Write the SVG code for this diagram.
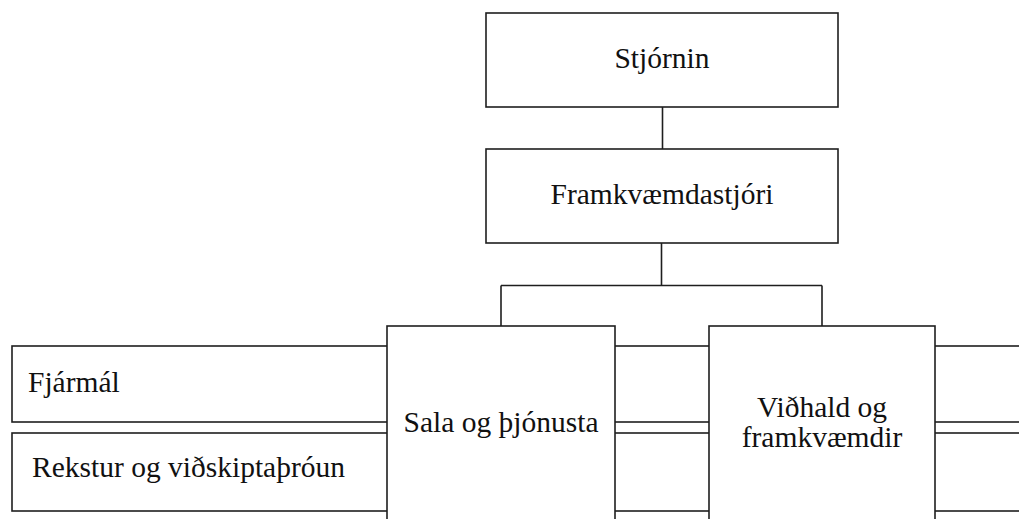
<svg xmlns="http://www.w3.org/2000/svg" width="1019" height="519" viewBox="0 0 1019 519">
<style>
.box{fill:#fff;stroke:#1e1e1e;stroke-width:1.6}
.con{fill:none;stroke:#1e1e1e;stroke-width:1.6}
.t{font-family:'Liberation Serif','Times New Roman',serif;font-size:29.5px;fill:#111}
.c{text-anchor:middle}
</style>
<rect width="1019" height="519" fill="#fff"/>
<g id="connectors">
<line class="con" x1="662.5" y1="107" x2="662.5" y2="149"/>
<path class="con" d="M661.5 243 V285.5 M501 285.5 H822 M501 285.5 V326 M822 285.5 V326"/>
</g>
<g id="node-stjornin">
<rect class="box" x="486" y="13" width="352" height="94"/>
<text class="t c" x="662" y="68">Stjórnin</text>
</g>
<g id="node-framkvaemdastjori">
<rect class="box" x="486" y="149" width="352" height="94"/>
<text class="t c" x="662" y="204">Framkvæmdastjóri</text>
</g>
<g id="node-fjarmal">
<rect class="box" x="12" y="346" width="400" height="76"/>
<text class="t" x="28" y="392">Fjármál</text>
</g>
<g id="node-rekstur">
<rect class="box" x="12" y="433" width="400" height="78"/>
<text class="t" x="32" y="477">Rekstur og viðskiptaþróun</text>
</g>
<g id="node-mid-1">
<rect class="box" x="600" y="346" width="130" height="76"/>
</g>
<g id="node-mid-2">
<rect class="box" x="600" y="433" width="130" height="78"/>
</g>
<g id="node-right-1">
<rect class="box" x="920" y="346" width="130" height="76"/>
</g>
<g id="node-right-2">
<rect class="box" x="920" y="433" width="130" height="78"/>
</g>
<g id="node-sala">
<rect class="box" x="387" y="326" width="228" height="240"/>
<text class="t c" x="501" y="432">Sala og þjónusta</text>
</g>
<g id="node-vidhald">
<rect class="box" x="709" y="326" width="226" height="240"/>
<text class="t c" x="822" y="417">Viðhald og</text>
<text class="t c" x="822" y="447">framkvæmdir</text>
</g>
</svg>
